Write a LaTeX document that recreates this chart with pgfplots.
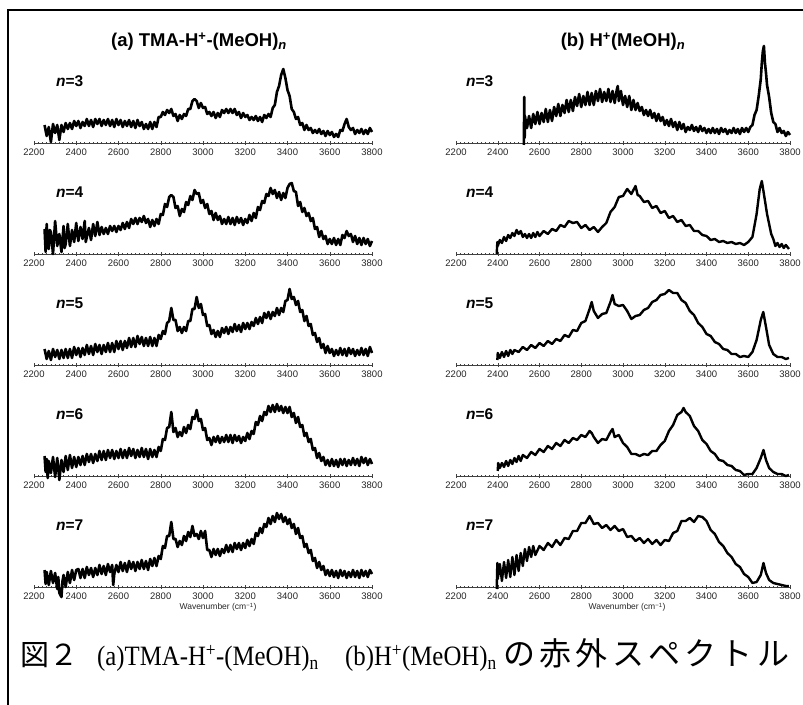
\documentclass[border=0pt]{standalone}
\usepackage{fontspec}
\setmainfont{Liberation Sans}
\newfontfamily\serif{Liberation Serif}
\newfontfamily\cjk{Noto Sans CJK JP}
\usepackage{pgfplots}
\pgfplotsset{compat=1.18}
\pgfplotsset{spec/.style={
  scale only axis, width=#1, height=100pt, xmin=2200, xmax=3800, ymin=0, ymax=100,
  axis x line=bottom, axis y line=none, axis line style={-, black!75, line width=0.7pt},
  clip=false, xtick={2200,2400,...,3800}, minor x tick num=9, xtick align=center,
  major tick length=4pt, minor tick length=2.5pt, tick style={black!75, line width=0.5pt},
  tick label style={font=\fontsize{9.5}{11}\selectfont, text=black!85},
  /pgf/number format/1000 sep={}, /pgf/number format/assume math mode=true,
  anchor=south west},
  sp/.style={black, line width=2.6pt, line join=round, no marks},
  spt/.style={black, line width=2.4pt, line join=round, no marks}}
\begin{document}
\begin{tikzpicture}[x=1pt,y=1pt]
% ---------------- left column ----------------
\begin{axis}[spec=338pt, at={(34pt,561pt)}]
\addplot[sp] table[row sep=\\]{x y\\
2250 18\\2260 7\\2270 16\\2280 1\\2290 19\\2300 10\\2310 18\\2320 3\\2330 18\\2340 11\\2350 20\\2360 14\\2370 20\\2380 14\\2390 22\\2400 17\\2410 22\\2420 15\\2430 21\\2440 17\\2450 24\\2460 17\\2470 23\\2480 16\\2490 24\\2500 19\\2510 24\\2520 17\\2530 23\\2540 18\\2550 24\\2560 17\\2570 23\\2580 16\\2590 24\\2600 18\\2610 23\\2620 16\\2630 22\\2640 17\\2650 23\\2660 16\\2670 22\\2680 15\\2690 23\\2700 17\\2710 21\\2720 14\\2730 19\\2740 14\\2750 21\\2760 14\\2770 21\\2780 16\\2790 26\\2800 26\\2810 31\\2820 28\\2830 33\\2840 30\\2850 34\\2860 27\\2870 29\\2880 22\\2890 28\\2900 24\\2910 29\\2920 27\\2930 34\\2940 34\\2950 42\\2960 44\\2970 42\\2980 35\\2990 40\\3000 35\\3010 36\\3020 29\\3030 31\\3040 27\\3050 31\\3060 25\\3070 30\\3080 26\\3090 33\\3100 30\\3110 34\\3120 30\\3130 34\\3140 30\\3150 34\\3160 28\\3170 31\\3180 25\\3190 30\\3200 26\\3210 28\\3220 23\\3230 26\\3240 23\\3250 27\\3260 22\\3270 26\\3280 21\\3290 28\\3300 25\\3310 29\\3320 26\\3330 35\\3340 38\\3350 51\\3360 57\\3370 68\\3380 74\\3390 65\\3400 53\\3410 47\\3420 34\\3430 31\\3440 24\\3450 26\\3460 18\\3470 20\\3480 13\\3490 18\\3500 13\\3510 15\\3520 10\\3530 13\\3540 10\\3550 14\\3560 9\\3570 12\\3580 7\\3590 12\\3600 8\\3610 11\\3620 6\\3630 9\\3640 6\\3650 13\\3660 12\\3670 19\\3680 24\\3690 16\\3700 13\\3710 15\\3720 9\\3730 13\\3740 10\\3750 14\\3760 9\\3770 13\\3780 9\\3790 15\\3800 11\\
};
\end{axis}
\begin{axis}[spec=338pt, at={(34pt,450pt)}]
\addplot[sp] table[row sep=\\]{x y\\
2250 25\\2255 2\\2260 30\\2265 12\\2270 5\\2275 24\\2280 22\\2290 0\\2300 33\\2310 8\\2320 20\\2330 2\\2340 28\\2345 6\\2350 10\\2360 30\\2370 8\\2380 24\\2390 12\\2400 31\\2405 20\\2410 13\\2420 27\\2430 15\\2440 33\\2445 12\\2450 17\\2460 26\\2470 14\\2480 30\\2490 18\\2500 32\\2510 19\\2520 27\\2530 20\\2540 26\\2550 20\\2560 28\\2570 23\\2580 28\\2590 22\\2600 28\\2610 24\\2620 31\\2630 25\\2640 32\\2650 26\\2660 35\\2670 30\\2680 36\\2690 30\\2700 36\\2710 32\\2720 38\\2730 31\\2740 35\\2750 27\\2760 34\\2770 28\\2780 35\\2790 30\\2800 40\\2810 39\\2820 50\\2830 47\\2840 57\\2850 59\\2860 57\\2870 46\\2880 48\\2890 38\\2900 45\\2910 42\\2920 52\\2930 49\\2940 58\\2950 54\\2960 64\\2970 60\\2980 61\\2990 51\\3000 54\\3010 46\\3020 50\\3030 40\\3040 43\\3050 34\\3060 41\\3070 34\\3080 38\\3090 30\\3100 35\\3110 30\\3120 37\\3130 30\\3140 36\\3150 29\\3160 37\\3170 31\\3180 36\\3190 29\\3200 35\\3210 31\\3220 39\\3230 33\\3240 41\\3250 36\\3260 47\\3270 44\\3280 53\\3290 51\\3300 60\\3310 58\\3320 66\\3330 60\\3340 64\\3350 56\\3360 62\\3370 54\\3380 61\\3390 56\\3400 66\\3410 70\\3420 71\\3430 63\\3440 62\\3450 48\\3460 52\\3470 42\\3480 46\\3490 38\\3500 41\\3510 33\\3520 36\\3530 25\\3540 27\\3550 17\\3560 23\\3570 15\\3580 18\\3590 10\\3600 15\\3610 10\\3620 16\\3630 9\\3640 15\\3650 9\\3660 19\\3670 16\\3680 23\\3690 18\\3700 20\\3710 12\\3720 18\\3730 10\\3740 16\\3750 9\\3760 16\\3770 10\\3780 15\\3790 8\\3800 13\\
};
\end{axis}
\begin{axis}[spec=338pt, at={(34pt,339pt)}]
\addplot[sp] table[row sep=\\]{x y\\
2250 16\\2260 6\\2270 14\\2280 5\\2290 16\\2300 8\\2310 15\\2320 6\\2330 15\\2340 7\\2350 16\\2360 7\\2370 16\\2380 7\\2390 18\\2400 10\\2410 17\\2420 8\\2430 17\\2440 10\\2450 20\\2460 11\\2470 19\\2480 10\\2490 21\\2500 13\\2510 20\\2520 11\\2530 20\\2540 13\\2550 22\\2560 13\\2570 22\\2580 13\\2590 24\\2600 16\\2610 24\\2620 15\\2630 24\\2640 17\\2650 27\\2660 18\\2670 27\\2680 18\\2690 29\\2700 21\\2710 28\\2720 19\\2730 27\\2740 19\\2750 28\\2760 19\\2770 27\\2780 19\\2790 30\\2800 26\\2810 34\\2820 31\\2830 42\\2840 44\\2850 57\\2860 45\\2870 45\\2880 34\\2890 38\\2900 32\\2910 38\\2920 34\\2930 44\\2940 44\\2950 56\\2960 56\\2970 68\\2980 57\\2990 61\\3000 50\\3010 51\\3020 39\\3030 40\\3040 31\\3050 35\\3060 28\\3070 34\\3080 28\\3090 37\\3100 32\\3110 38\\3120 31\\3130 38\\3140 33\\3150 41\\3160 34\\3170 40\\3180 33\\3190 42\\3200 36\\3210 42\\3220 36\\3230 43\\3240 39\\3250 47\\3260 41\\3270 48\\3280 42\\3290 52\\3300 47\\3310 53\\3320 46\\3330 53\\3340 49\\3350 57\\3360 50\\3370 57\\3380 53\\3390 64\\3400 65\\3410 76\\3420 66\\3430 68\\3440 60\\3450 64\\3460 53\\3470 55\\3480 44\\3490 49\\3500 39\\3510 41\\3520 30\\3530 32\\3540 23\\3550 27\\3560 17\\3570 21\\3580 12\\3590 19\\3600 12\\3610 16\\3620 9\\3630 15\\3640 10\\3650 17\\3660 10\\3670 16\\3680 9\\3690 17\\3700 11\\3710 16\\3720 9\\3730 15\\3740 10\\3750 17\\3760 10\\3770 16\\3780 9\\3790 18\\3800 12\\
};
\end{axis}
\begin{axis}[spec=338pt, at={(34pt,228pt)}]
\addplot[sp] table[row sep=\\]{x y\\
2250 20\\2255 4\\2260 17\\2265 -2\\2270 15\\2280 3\\2290 19\\2300 -1\\2310 18\\2320 -4\\2330 16\\2340 4\\2350 20\\2360 6\\2370 21\\2380 8\\2390 19\\2400 9\\2410 19\\2420 11\\2430 20\\2440 11\\2450 22\\2460 14\\2470 22\\2480 13\\2490 22\\2500 15\\2510 25\\2520 16\\2530 25\\2540 16\\2550 26\\2560 18\\2570 26\\2580 17\\2590 25\\2600 18\\2610 27\\2620 18\\2630 26\\2640 18\\2650 28\\2660 20\\2670 27\\2680 18\\2690 26\\2700 19\\2710 28\\2720 19\\2730 27\\2740 17\\2750 27\\2760 19\\2770 26\\2780 19\\2790 29\\2800 25\\2810 37\\2820 36\\2830 48\\2840 49\\2850 64\\2860 44\\2870 48\\2880 39\\2890 44\\2900 40\\2910 49\\2920 43\\2930 51\\2940 47\\2950 59\\2960 57\\2970 66\\2980 55\\2990 57\\3000 46\\3010 48\\3020 36\\3030 38\\3040 31\\3050 39\\3060 34\\3070 40\\3080 33\\3090 39\\3100 34\\3110 41\\3120 34\\3130 41\\3140 33\\3150 41\\3160 35\\3170 40\\3180 33\\3190 39\\3200 35\\3210 43\\3220 37\\3230 45\\3240 42\\3250 54\\3260 51\\3270 60\\3280 55\\3290 64\\3300 61\\3310 70\\3320 64\\3330 71\\3340 64\\3350 72\\3360 65\\3370 70\\3380 63\\3390 69\\3400 63\\3410 69\\3420 59\\3430 63\\3440 53\\3450 59\\3460 49\\3470 51\\3480 40\\3490 43\\3500 34\\3510 37\\3520 26\\3530 28\\3540 18\\3550 23\\3560 15\\3570 19\\3580 11\\3590 16\\3600 10\\3610 17\\3620 10\\3630 16\\3640 9\\3650 17\\3660 11\\3670 17\\3680 10\\3690 16\\3700 11\\3710 18\\3720 11\\3730 17\\3740 10\\3750 19\\3760 13\\3770 18\\3780 11\\3790 17\\3800 12\\
};
\end{axis}
\begin{axis}[spec=338pt, at={(34pt,117pt)}]
\addplot[sp] table[row sep=\\]{x y\\
2250 17\\2255 3\\2260 15\\2270 2\\2280 16\\2290 4\\2300 14\\2310 -2\\2315 10\\2320 -6\\2330 -10\\2335 6\\2340 12\\2350 0\\2360 15\\2370 4\\2380 17\\2390 7\\2400 17\\2410 18\\2420 9\\2430 18\\2440 9\\2450 20\\2460 12\\2470 19\\2480 10\\2490 19\\2500 12\\2510 22\\2520 13\\2530 21\\2540 12\\2550 23\\2560 15\\2570 22\\2575 2\\2580 13\\2590 22\\2600 15\\2610 25\\2620 16\\2630 24\\2640 15\\2650 26\\2660 18\\2670 25\\2680 16\\2690 25\\2700 18\\2710 27\\2720 18\\2730 26\\2740 17\\2750 28\\2760 21\\2770 29\\2780 21\\2790 31\\2800 28\\2810 41\\2820 39\\2830 51\\2840 51\\2850 65\\2860 48\\2870 48\\2880 40\\2890 46\\2900 42\\2910 51\\2920 46\\2930 55\\2940 50\\2950 61\\2960 51\\2970 53\\2980 48\\2990 56\\3000 49\\3010 56\\3020 37\\3030 37\\3040 30\\3050 38\\3060 32\\3070 38\\3080 31\\3090 38\\3100 34\\3110 42\\3120 35\\3130 42\\3140 35\\3150 44\\3160 38\\3170 44\\3180 37\\3190 44\\3200 39\\3210 47\\3220 41\\3230 48\\3240 43\\3250 54\\3260 51\\3270 59\\3280 54\\3290 63\\3300 60\\3310 69\\3320 63\\3330 71\\3340 65\\3350 74\\3360 68\\3370 73\\3380 65\\3390 70\\3400 63\\3410 68\\3420 59\\3430 63\\3440 53\\3450 59\\3460 49\\3470 51\\3480 40\\3490 43\\3500 34\\3510 37\\3520 26\\3530 29\\3540 19\\3550 25\\3560 17\\3570 21\\3580 12\\3590 17\\3600 11\\3610 17\\3620 10\\3630 16\\3640 9\\3650 17\\3660 11\\3670 16\\3680 9\\3690 15\\3700 10\\3710 17\\3720 10\\3730 16\\3740 9\\3750 17\\3760 11\\3770 16\\3780 10\\3790 17\\3800 13\\
};
\end{axis}
% ---------------- right column ----------------
\begin{axis}[spec=334pt, at={(456pt,561pt)}]
\addplot[sp] table[row sep=\\]{x y\\
2525 -2\\2527 46\\2529 5\\2530 27\\2540 15\\2550 27\\2560 15\\2570 29\\2580 19\\2590 31\\2600 19\\2610 30\\2620 21\\2630 34\\2640 21\\2650 33\\2660 22\\2670 36\\2680 27\\2690 39\\2700 27\\2710 38\\2720 30\\2730 43\\2740 31\\2750 43\\2760 32\\2770 46\\2780 37\\2790 49\\2800 36\\2810 47\\2820 38\\2830 51\\2840 38\\2850 50\\2860 38\\2870 52\\2880 42\\2890 54\\2900 41\\2910 51\\2920 42\\2930 54\\2940 41\\2950 52\\2960 40\\2970 53\\2975 57\\2980 42\\2990 52\\3000 38\\3010 47\\3020 36\\3030 47\\3040 33\\3050 43\\3060 33\\3070 40\\3080 32\\3090 36\\3100 28\\3110 33\\3120 27\\3130 33\\3140 25\\3150 30\\3160 22\\3170 29\\3180 22\\3190 26\\3200 18\\3210 23\\3220 17\\3230 24\\3240 16\\3250 21\\3260 13\\3270 21\\3280 14\\3290 19\\3300 11\\3310 16\\3320 13\\3330 18\\3340 12\\3350 16\\3360 11\\3370 17\\3380 12\\3390 15\\3400 10\\3410 14\\3420 10\\3430 15\\3440 10\\3450 14\\3460 9\\3470 15\\3480 11\\3490 14\\3500 9\\3510 13\\3520 10\\3530 15\\3540 10\\3550 14\\3560 9\\3570 15\\3580 11\\3590 15\\3600 11\\3610 16\\3620 18\\3630 28\\3640 33\\3650 47\\3660 64\\3665 80\\3670 92\\3675 97\\3680 80\\3685 70\\3690 58\\3700 46\\3710 30\\3720 21\\3730 19\\3740 11\\3750 15\\3760 10\\3770 12\\3780 7\\3790 11\\3800 8\\
};
\end{axis}
\begin{axis}[spec=334pt, at={(456pt,450pt)}]
\addplot[spt] table[row sep=\\]{x y\\
2395 0\\2398 12\\2400 8\\2410 14\\2420 11\\2430 17\\2440 13\\2450 19\\2460 16\\2470 21\\2480 18\\2490 24\\2500 20\\2510 23\\2520 17\\2530 20\\2540 16\\2550 20\\2560 16\\2570 21\\2580 17\\2590 22\\2600 18\\2620 23\\2640 20\\2660 25\\2680 23\\2700 29\\2720 27\\2740 33\\2760 31\\2780 32\\2800 26\\2820 29\\2840 24\\2860 27\\2880 22\\2900 27\\2920 31\\2940 42\\2960 47\\2980 57\\3000 58\\3020 65\\3040 60\\3060 68\\3070 59\\3080 58\\3100 52\\3120 53\\3140 46\\3160 48\\3180 41\\3200 43\\3220 36\\3240 38\\3260 32\\3280 34\\3300 28\\3320 29\\3340 23\\3360 23\\3380 19\\3400 18\\3420 14\\3440 15\\3460 12\\3480 13\\3500 11\\3520 12\\3540 10\\3560 11\\3580 9\\3600 12\\3620 17\\3640 40\\3655 65\\3665 73\\3675 60\\3690 40\\3700 30\\3710 20\\3720 15\\3730 8\\3740 11\\3750 7\\3760 10\\3770 6\\3780 9\\3795 5\\
};
\end{axis}
\begin{axis}[spec=334pt, at={(456pt,339pt)}]
\addplot[spt] table[row sep=\\]{x y\\
2398 5\\2400 12\\2410 7\\2420 13\\2430 8\\2440 14\\2450 9\\2460 15\\2470 11\\2480 15\\2500 13\\2520 18\\2540 15\\2560 20\\2580 17\\2600 22\\2620 19\\2640 24\\2660 21\\2680 26\\2700 24\\2720 30\\2740 28\\2760 35\\2780 34\\2800 42\\2820 44\\2840 56\\2850 63\\2860 54\\2880 47\\2900 51\\2920 52\\2940 63\\2950 70\\2960 61\\2980 59\\3000 60\\3020 54\\3040 46\\3060 49\\3080 50\\3100 55\\3120 57\\3140 63\\3160 65\\3180 70\\3200 71\\3220 75\\3240 72\\3260 72\\3280 65\\3300 62\\3320 54\\3340 50\\3360 42\\3380 38\\3400 31\\3420 29\\3440 23\\3460 21\\3480 16\\3500 15\\3520 11\\3540 11\\3560 8\\3580 9\\3600 8\\3620 13\\3640 25\\3660 45\\3672 53\\3685 38\\3700 20\\3720 11\\3740 8\\3760 8\\3780 6\\3795 7\\
};
\end{axis}
\begin{axis}[spec=334pt, at={(456pt,228pt)}]
\addplot[spt] table[row sep=\\]{x y\\
2400 5\\2402 13\\2410 8\\2420 13\\2430 9\\2440 15\\2450 10\\2460 16\\2470 12\\2480 18\\2490 14\\2500 20\\2510 15\\2520 21\\2540 18\\2560 24\\2580 21\\2600 27\\2620 24\\2640 30\\2660 27\\2680 33\\2700 30\\2720 36\\2740 33\\2760 38\\2780 36\\2800 41\\2820 39\\2840 45\\2850 43\\2860 39\\2880 33\\2900 37\\2920 36\\2940 44\\2950 47\\2960 39\\2980 41\\3000 33\\3020 29\\3040 22\\3060 22\\3080 20\\3100 22\\3120 21\\3140 25\\3160 25\\3180 31\\3200 35\\3220 45\\3240 51\\3260 61\\3280 64\\3290 68\\3300 64\\3320 60\\3340 50\\3360 45\\3380 36\\3400 32\\3420 25\\3440 22\\3460 16\\3480 15\\3500 11\\3520 10\\3540 6\\3560 5\\3580 1\\3600 2\\3620 2\\3640 8\\3660 18\\3673 26\\3685 16\\3700 8\\3720 4\\3740 2\\3760 2\\3780 0\\3795 1\\
};
\end{axis}
\begin{axis}[spec=334pt, at={(456pt,117pt)}]
\addplot[spt] table[row sep=\\]{x y\\
2395 -2\\2398 24\\2400 8\\2410 23\\2420 6\\2430 25\\2440 9\\2450 27\\2460 10\\2470 30\\2480 12\\2490 32\\2500 16\\2510 34\\2520 21\\2530 38\\2540 26\\2550 40\\2560 30\\2570 41\\2580 32\\2600 41\\2620 37\\2640 44\\2660 40\\2680 47\\2700 42\\2720 49\\2740 48\\2760 56\\2780 56\\2800 64\\2820 64\\2840 71\\2860 63\\2880 64\\2900 59\\2920 62\\2940 57\\2960 61\\2980 56\\3000 58\\3020 50\\3040 51\\3060 46\\3080 49\\3100 44\\3120 48\\3140 43\\3160 47\\3180 42\\3200 47\\3220 46\\3240 54\\3260 56\\3280 66\\3300 66\\3320 69\\3340 65\\3360 71\\3380 70\\3400 66\\3420 57\\3440 53\\3460 45\\3480 41\\3500 34\\3520 30\\3540 23\\3560 20\\3580 13\\3600 10\\3620 4\\3640 5\\3660 12\\3673 24\\3685 14\\3700 7\\3720 4\\3740 3\\3760 2\\3780 1\\3795 1\\
};
\end{axis}
% ---------------- texts ----------------
\node[anchor=base] at (199pt,657pt) {\fontsize{18.5}{21}\selectfont\bfseries (a) TMA-H\textsuperscript{+}-(MeOH)\textsubscript{\textit{n}}};
\node[anchor=base] at (623pt,657pt) {\fontsize{18.5}{21}\selectfont\bfseries (b) H\textsuperscript{+}(MeOH)\textsubscript{\textit{n}}};
\foreach \yy/\nn in {561/3,450/4,339/5,228/6,117/7}{
  \node[anchor=base west, inner sep=0] at (56pt,\yy pt+56pt) {\fontsize{15.5}{17}\selectfont\bfseries\textit{n}=\nn};
  \node[anchor=base west, inner sep=0] at (466pt,\yy pt+56pt) {\fontsize{15.5}{17}\selectfont\bfseries\textit{n}=\nn};
}
\node[anchor=base, text=black!85] at (218pt,94pt) {\fontsize{8.5}{10}\selectfont Wavenumber (cm\textsuperscript{−1})};
\node[anchor=base, text=black!85] at (627pt,94pt) {\fontsize{8.5}{10}\selectfont Wavenumber (cm\textsuperscript{−1})};
\node[anchor=base west, inner sep=0] at (20pt,38pt) {\cjk\fontsize{29}{30}\selectfont 図２};
\node[anchor=base west, inner sep=0] at (97pt,38pt) {\scalebox{0.885}[1]{\serif\fontsize{28}{30}\selectfont (a)TMA-H\textsuperscript{+}-(MeOH)\textsubscript{n}}};
\node[anchor=base west, inner sep=0] at (345pt,38pt) {\scalebox{0.885}[1]{\serif\fontsize{28}{30}\selectfont (b)H\textsuperscript{+}(MeOH)\textsubscript{n}}};
\node[anchor=base west, inner sep=0] at (503pt,38pt) {\cjk\fontsize{32}{34}\selectfont\makebox[286pt][s]{の\hfill 赤\hfill 外\hfill ス\hfill ペ\hfill ク\hfill ト\hfill ル}};
\draw[line width=1.6pt] (8pt,-30pt) -- (8pt,694pt) -- (840pt,694pt);
\pgfresetboundingbox
\useasboundingbox (0pt,0pt) rectangle (803pt,704pt);
\end{tikzpicture}
\end{document}
